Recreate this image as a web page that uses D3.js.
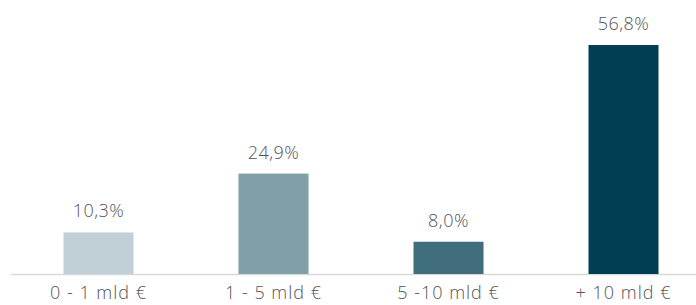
<!DOCTYPE html>
<html>
<head>
<meta charset="utf-8">
<script src="https://cdn.jsdelivr.net/npm/d3@7"></script>
<style>
html,body{margin:0;padding:0;background:#fff;overflow:hidden;}
svg{display:block;}
</style>
</head>
<body>
<svg id="chart" width="696" height="305"></svg>
<script>
const categories = ["0 - 1 mld €", "1 - 5 mld €", "5 -10 mld €", "+ 10 mld €"];
const values = [10.3, 24.9, 8.0, 56.8];
const valueLabels = ["10,3%", "24,9%", "8,0%", "56,8%"];
const colors = ["#c1d0d6", "#7fa0a9", "#406e7c", "#023e53"];

const svg = d3.select("#chart");
const font = "'Open Sans', sans-serif";

const x = d3.scaleBand().domain(categories).range([11, 711]).paddingInner(0.6).paddingOuter(0.3);
const y = d3.scaleLinear().domain([0, 56.8]).range([274, 45]);

svg.append("line")
  .attr("x1", 11).attr("x2", 696)
  .attr("y1", y(0) + 0.5).attr("y2", y(0) + 0.5)
  .attr("stroke", "#d9d9d9").attr("stroke-width", 1.5);

svg.selectAll("rect.bar").data(values).enter().append("rect")
  .attr("class", "bar")
  .attr("x", (d, i) => x(categories[i]))
  .attr("width", x.bandwidth())
  .attr("y", d => y(d))
  .attr("height", d => y(0) - y(d))
  .attr("fill", (d, i) => colors[i]);

svg.selectAll("text.val").data(values).enter().append("text")
  .attr("class", "val")
  .attr("x", (d, i) => x(categories[i]) + x.bandwidth() / 2)
  .attr("y", d => y(d) - 15)
  .attr("text-anchor", "middle")
  .attr("font-family", font).attr("font-weight", 300)
  .attr("font-size", 18).attr("letter-spacing", 0.5).attr("fill", "#555")
  .text((d, i) => valueLabels[i]);

svg.selectAll("text.cat").data(categories).enter().append("text")
  .attr("class", "cat")
  .attr("x", d => x(d) + x.bandwidth() / 2)
  .attr("y", 299)
  .attr("text-anchor", "middle")
  .attr("font-family", font).attr("font-weight", 300)
  .attr("font-size", 18).attr("letter-spacing", 1).attr("fill", "#555")
  .text(d => d);
</script>
</body>
</html>
